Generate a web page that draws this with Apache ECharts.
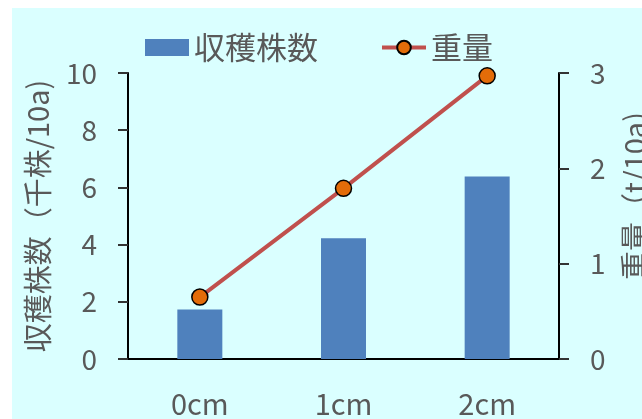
<!DOCTYPE html>
<html><head><meta charset="utf-8">
<script src="https://cdn.jsdelivr.net/npm/echarts@6/dist/echarts.min.js"></script>
<style>
html,body{margin:0;padding:0;background:#fff;}
#bg{position:absolute;left:12px;top:8px;width:630px;height:411px;background:#DAFFFF;}
#c{position:absolute;left:0;top:0;width:642px;height:419px;}
</style></head><body>
<div id="bg"></div>
<div id="c"></div>
<script>
const categories = ['0cm', '1cm', '2cm'];
const harvestCount = [1.73, 4.22, 6.38];
const weight = [0.65, 1.79, 2.97];
const leftTicks = {min: 0, max: 10, interval: 2};
const rightTicks = {min: 0, max: 3, interval: 1};

const font = '"Noto Sans CJK JP", "Noto Sans", sans-serif';
const textColor = '#595959';
const chart = echarts.init(document.getElementById('c'));
chart.setOption({
  backgroundColor: 'transparent',
  textStyle: {fontFamily: font},
  legend: {
    data: [{name: '収穫株数', icon: 'rect'}, {name: '重量'}],
    top: 27, left: 140,
    itemWidth: 44, itemHeight: 17, itemGap: 62,
    lineStyle: {width: 4},
    textStyle: {fontSize: 31, color: textColor, fontFamily: font}
  },
  grid: {left: 128, right: 83, top: 73, bottom: 60, outerBoundsMode: 'none', containLabel: false},
  xAxis: {
    type: 'category', data: categories,
    axisLine: {lineStyle: {color: '#000', width: 2}},
    axisTick: {show: false},
    axisLabel: {fontSize: 29, color: textColor, margin: 30, fontFamily: font}
  },
  yAxis: [{
    type: 'value', min: leftTicks.min, max: leftTicks.max, interval: leftTicks.interval,
    name: '収穫株数（千株/10a)', nameLocation: 'middle', nameRotate: 90, nameGap: 76,
    nameTextStyle: {fontSize: 29, color: textColor, fontFamily: font},
    axisLine: {show: true, lineStyle: {color: '#000', width: 2}},
    axisTick: {show: true, length: 10, lineStyle: {color: '#333', width: 2}},
    splitLine: {show: false},
    axisLabel: {fontSize: 28, color: textColor, margin: 31, fontFamily: font}
  }, {
    type: 'value', position: 'right', min: rightTicks.min, max: rightTicks.max, interval: rightTicks.interval,
    name: '重量（t/10a)', nameLocation: 'middle', nameRotate: 90, nameGap: 61,
    nameTextStyle: {fontSize: 29, color: textColor, fontFamily: font, padding: [0, 0, 0, 40]},
    axisLine: {show: true, lineStyle: {color: '#000', width: 2}},
    axisTick: {show: true, length: 10, lineStyle: {color: '#333', width: 2}},
    splitLine: {show: false},
    axisLabel: {fontSize: 28, color: textColor, margin: 31, fontFamily: font}
  }],
  series: [{
    name: '収穫株数', type: 'bar', data: harvestCount, barWidth: 45,
    itemStyle: {color: '#4F81BD'}
  }, {
    name: '重量', type: 'line', yAxisIndex: 1, data: weight,
    symbol: 'circle', symbolSize: 16,
    lineStyle: {color: '#C0504D', width: 4},
    itemStyle: {color: '#E36C09', borderColor: '#000', borderWidth: 1.5}
  }]
});
</script></body></html>
